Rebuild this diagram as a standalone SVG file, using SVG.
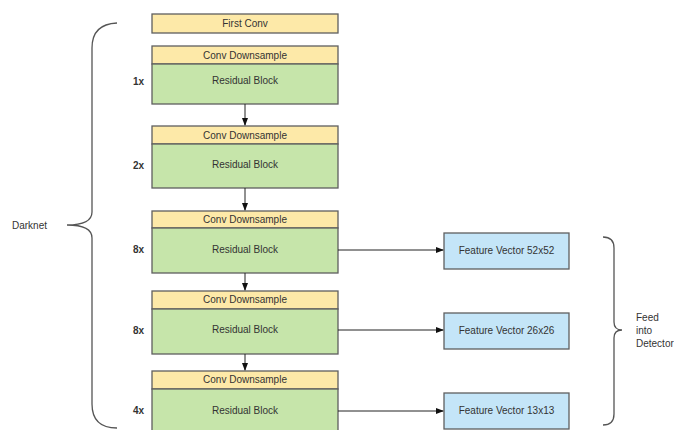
<svg xmlns="http://www.w3.org/2000/svg" width="674" height="430" viewBox="0 0 674 430">
<style>
text{font-family:"Liberation Sans",Arial,sans-serif;font-size:10px;fill:#333;}
.c{text-anchor:middle;}
.b{font-weight:bold;}
.y{fill:#FDE9A8;stroke:#5f5f5f;stroke-width:1.3;}
.g{fill:#C6E5AA;stroke:#5f5f5f;stroke-width:1.3;}
.bl{fill:#C4E5F8;stroke:#5f5f5f;stroke-width:1.3;}
.ln{stroke:#222;stroke-width:1;fill:none;}
.br{stroke:#555;stroke-width:1.3;fill:none;}
</style>
<defs>
<marker id="ah" markerWidth="8" markerHeight="6" refX="7" refY="3" orient="auto" markerUnits="userSpaceOnUse">
<path d="M0,0 L8,3 L0,6 Z" fill="#111"/>
</marker>
</defs>
<rect width="674" height="430" fill="#fff"/>
<g id="first-conv">
<rect class="y" x="152" y="14" width="186" height="19"/>
<text class="c" x="245" y="27">First Conv</text>
</g>
<g id="block1">
<rect class="y" x="152" y="46" width="186" height="18"/>
<rect class="g" x="152" y="64" width="186" height="40"/>
<text class="c" x="245" y="58.5">Conv Downsample</text>
<text class="c" x="245" y="84">Residual Block</text>
<text class="b" x="133" y="84.5">1x</text>
</g>
<g id="block2">
<rect class="y" x="152" y="126" width="186" height="18"/>
<rect class="g" x="152" y="144" width="186" height="44"/>
<text class="c" x="245" y="138.5">Conv Downsample</text>
<text class="c" x="245" y="168">Residual Block</text>
<text class="b" x="133" y="169">2x</text>
</g>
<g id="block3">
<rect class="y" x="152" y="211" width="186" height="17"/>
<rect class="g" x="152" y="228" width="186" height="45"/>
<text class="c" x="245" y="222.5">Conv Downsample</text>
<text class="c" x="245" y="252.5">Residual Block</text>
<text class="b" x="133" y="253">8x</text>
</g>
<g id="block4">
<rect class="y" x="152" y="291" width="186" height="18"/>
<rect class="g" x="152" y="309" width="186" height="45"/>
<text class="c" x="245" y="302.5">Conv Downsample</text>
<text class="c" x="245" y="333">Residual Block</text>
<text class="b" x="133" y="333.5">8x</text>
</g>
<g id="block5">
<rect class="y" x="152" y="371" width="186" height="18"/>
<rect class="g" x="152" y="389" width="186" height="45"/>
<text class="c" x="245" y="382.5">Conv Downsample</text>
<text class="c" x="245" y="413.5">Residual Block</text>
<text class="b" x="133" y="414">4x</text>
</g>
<g id="fv52">
<rect class="bl" x="444" y="233" width="125" height="36"/>
<text class="c" x="506.5" y="254">Feature Vector 52x52</text>
</g>
<g id="fv26">
<rect class="bl" x="444" y="313" width="125" height="36"/>
<text class="c" x="506.5" y="334">Feature Vector 26x26</text>
</g>
<g id="fv13">
<rect class="bl" x="444" y="393" width="125" height="36"/>
<text class="c" x="506.5" y="414">Feature Vector 13x13</text>
</g>
<g id="darknet">
<path class="br" d="M117,23 Q92,24 92,48 L92,212 Q92,225 67,225 Q92,225 92,238 L92,404 Q92,428 117,428"/>
<text x="12" y="229">Darknet</text>
</g>
<g id="detector">
<path class="br" d="M603,237 Q614,237 614,248 L614,322 Q614,330 622,330 Q614,330 614,338 L614,414 Q614,425 603,425"/>
<text x="636" y="321">Feed</text>
<text x="636" y="334">into</text>
<text x="636" y="347">Detector</text>
</g>
<g id="connectors">
<line class="ln" x1="245" y1="104" x2="245" y2="125" marker-end="url(#ah)"/>
<line class="ln" x1="245" y1="188" x2="245" y2="210" marker-end="url(#ah)"/>
<line class="ln" x1="245" y1="273" x2="245" y2="290" marker-end="url(#ah)"/>
<line class="ln" x1="245" y1="354" x2="245" y2="370" marker-end="url(#ah)"/>
<line class="ln" x1="338" y1="250" x2="443" y2="250" marker-end="url(#ah)"/>
<line class="ln" x1="338" y1="330" x2="443" y2="330" marker-end="url(#ah)"/>
<line class="ln" x1="338" y1="411" x2="443" y2="411" marker-end="url(#ah)"/>
</g>
</svg>
